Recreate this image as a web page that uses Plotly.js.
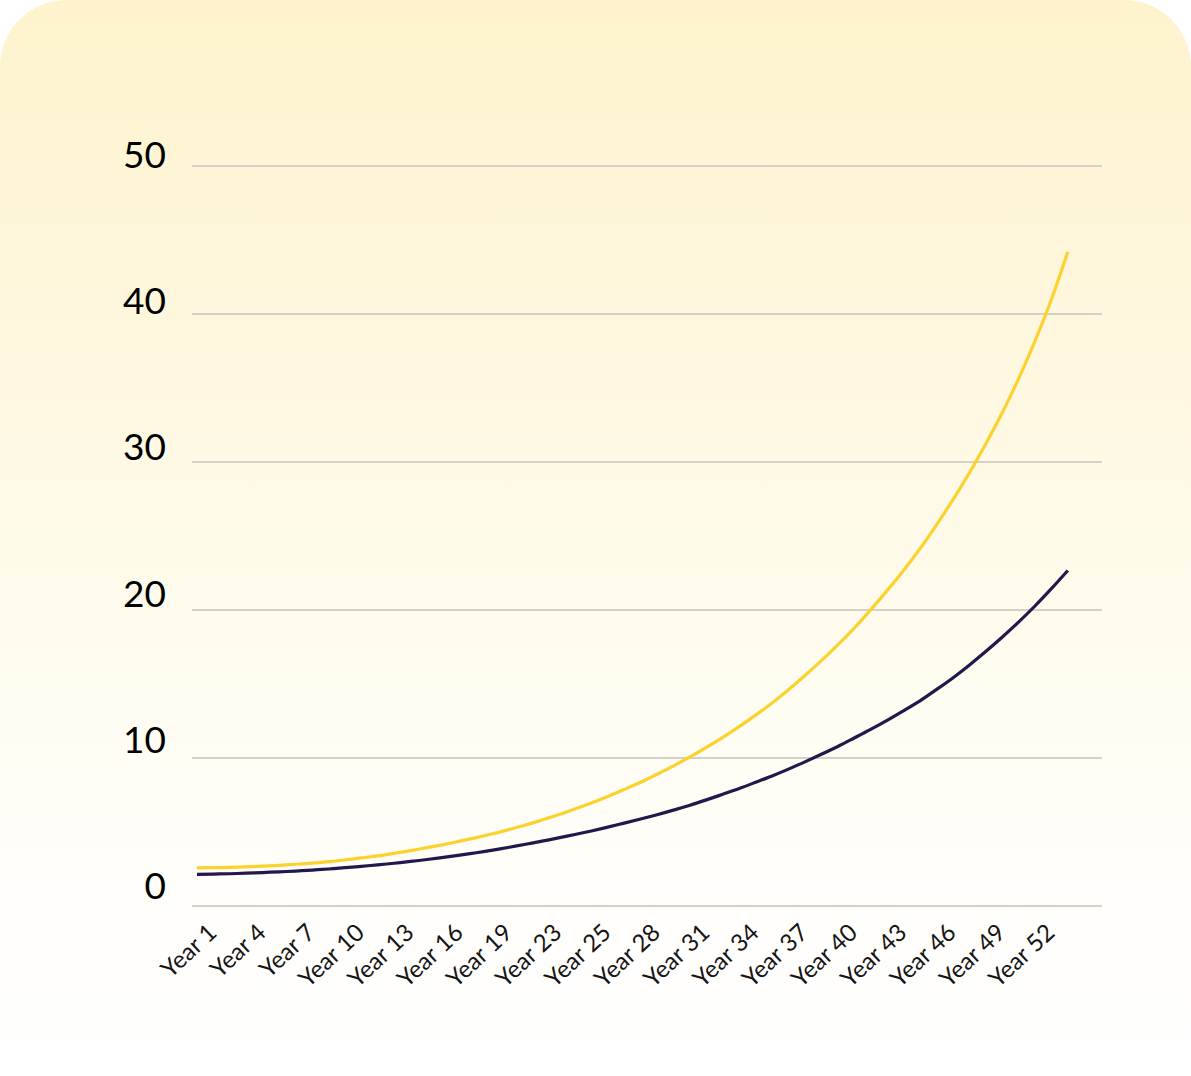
<!DOCTYPE html>
<html>
<head>
<meta charset="utf-8">
<script src="https://cdn.plot.ly/plotly-3.0.1.min.js"></script>
<style>
  html, body { margin: 0; padding: 0; background: #ffffff; }
  #card {
    position: absolute; left: 0; top: 0; width: 1191px; height: 1076px;
    border-radius: 67px 67px 0 0;
    background: linear-gradient(180deg, #FEF3CD 0%, #FEF7DE 30%, #FFFCEF 60%, #FFFEFB 85%, #FFFFFF 100%);
  }
  #chart { position: absolute; left: 0; top: 0; width: 1191px; height: 1076px; }
</style>
</head>
<body>
<div id="card"></div>
<div id="chart"></div>
<script>
// Categories (note: the source labels the 22nd point "Year 23")
const categories = [
  "Year 1","Year 2","Year 3","Year 4","Year 5","Year 6","Year 7","Year 8","Year 9","Year 10",
  "Year 11","Year 12","Year 13","Year 14","Year 15","Year 16","Year 17","Year 18","Year 19","Year 20",
  "Year 21","Year 23","Year 23","Year 24","Year 25","Year 26","Year 27","Year 28","Year 29","Year 30",
  "Year 31","Year 32","Year 33","Year 34","Year 35","Year 36","Year 37","Year 38","Year 39","Year 40",
  "Year 41","Year 42","Year 43","Year 44","Year 45","Year 46","Year 47","Year 48","Year 49","Year 50",
  "Year 51","Year 52","Year 53","Year 54"
];

const yellowSeries = [
  2.57, 2.59, 2.61, 2.65, 2.69, 2.75, 2.82, 2.90, 3.00, 3.11,
  3.25, 3.39, 3.56, 3.74, 3.94, 4.15, 4.38, 4.62, 4.88, 5.17,
  5.47, 5.81, 6.16, 6.55, 6.96, 7.40, 7.87, 8.36, 8.90, 9.47,
  10.07, 10.72, 11.40, 12.12, 12.90, 13.72, 14.61, 15.57, 16.58, 17.64,
  18.78, 20.01, 21.31, 22.67, 24.14, 25.74, 27.44, 29.25, 31.22, 33.31,
  35.62, 38.17, 40.98, 44.21
];

const darkSeries = [
  2.14, 2.16, 2.18, 2.22, 2.26, 2.31, 2.36, 2.43, 2.50, 2.59,
  2.68, 2.78, 2.89, 3.01, 3.14, 3.28, 3.44, 3.60, 3.78, 3.97,
  4.17, 4.38, 4.60, 4.83, 5.07, 5.33, 5.60, 5.88, 6.17, 6.48,
  6.81, 7.17, 7.55, 7.94, 8.36, 8.79, 9.25, 9.74, 10.25, 10.78,
  11.35, 11.93, 12.54, 13.19, 13.86, 14.62, 15.41, 16.27, 17.19, 18.16,
  19.18, 20.27, 21.44, 22.67
];

const yTickValues = [0, 10, 20, 30, 40, 50];
const labelStep = 3;

const xIdx = categories.map((_, i) => i);
const tickIdx = xIdx.filter(i => i % labelStep === 0);
const tickText = tickIdx.map(i => categories[i]);

const traces = [
  {
    x: xIdx, y: yellowSeries, type: 'scatter', mode: 'lines',
    line: { color: '#FCD22E', width: 3.2, shape: 'spline' },
    hoverinfo: 'skip', xaxis: 'x', yaxis: 'y'
  },
  {
    x: xIdx, y: darkSeries, type: 'scatter', mode: 'lines',
    line: { color: '#22184C', width: 3.2, shape: 'spline' },
    hoverinfo: 'skip', xaxis: 'x', yaxis: 'y'
  },
  // invisible trace to activate the label axis
  {
    x: [xIdx[0]], y: [yTickValues[0]], type: 'scatter', mode: 'markers',
    marker: { opacity: 0 }, hoverinfo: 'skip', xaxis: 'x', yaxis: 'y2'
  }
];

// plot area: margin t=100, b=150 -> 100..926 px
const H = 1076, mt = 100, mb = 150;
const areaH = H - mt - mb;
const pad = 0.25;                       // padding so edge gridlines are drawn
const gridTop = 166, gridBottom = 906;  // pixel rows of 50 and 0
const pxPerUnit = (gridBottom - gridTop) / 50;
const labTop = 155, labBottom = 886;
const dom = (top, bot) => [(H - mb - bot) / areaH, (H - mb - top) / areaH];

const layout = {
  width: 1191, height: 1076,
  paper_bgcolor: 'rgba(0,0,0,0)',
  plot_bgcolor: 'rgba(0,0,0,0)',
  showlegend: false,
  margin: { l: 192, r: 89, t: mt, b: mb, pad: 0 },
  xaxis: {
    range: [-0.3043, 55.08],
    tickmode: 'array', tickvals: tickIdx, ticktext: tickText,
    tickangle: -43,
    tickfont: { family: 'Lato, "Open Sans", sans-serif', size: 24, color: '#151515' },
    showgrid: false, zeroline: false, showline: false,
    ticks: '', anchor: 'y', fixedrange: true,
    ticklabelshift: 13, ticklabelstandoff: 3
  },
  yaxis: {
    domain: dom(gridTop - pad * pxPerUnit, gridBottom + pad * pxPerUnit),
    range: [-pad, 50 + pad],
    tickmode: 'array', tickvals: yTickValues,
    showticklabels: false,
    showgrid: true, gridcolor: '#D4D1C9', gridwidth: 1.6,
    zeroline: false,
    showline: false, ticks: '', fixedrange: true
  },
  yaxis2: {
    domain: dom(labTop, labBottom),
    range: [0, 50],
    anchor: 'x',
    tickmode: 'array', tickvals: yTickValues, ticktext: yTickValues.map(String),
    tickfont: { family: 'Lato, "Open Sans", sans-serif', size: 37, color: '#000000' },
    showgrid: false, zeroline: false, showline: false,
    ticks: '', ticklabelstandoff: 25, fixedrange: true
  }
};

Plotly.newPlot('chart', traces, layout, { displayModeBar: false, staticPlot: true });
</script>
</body>
</html>
